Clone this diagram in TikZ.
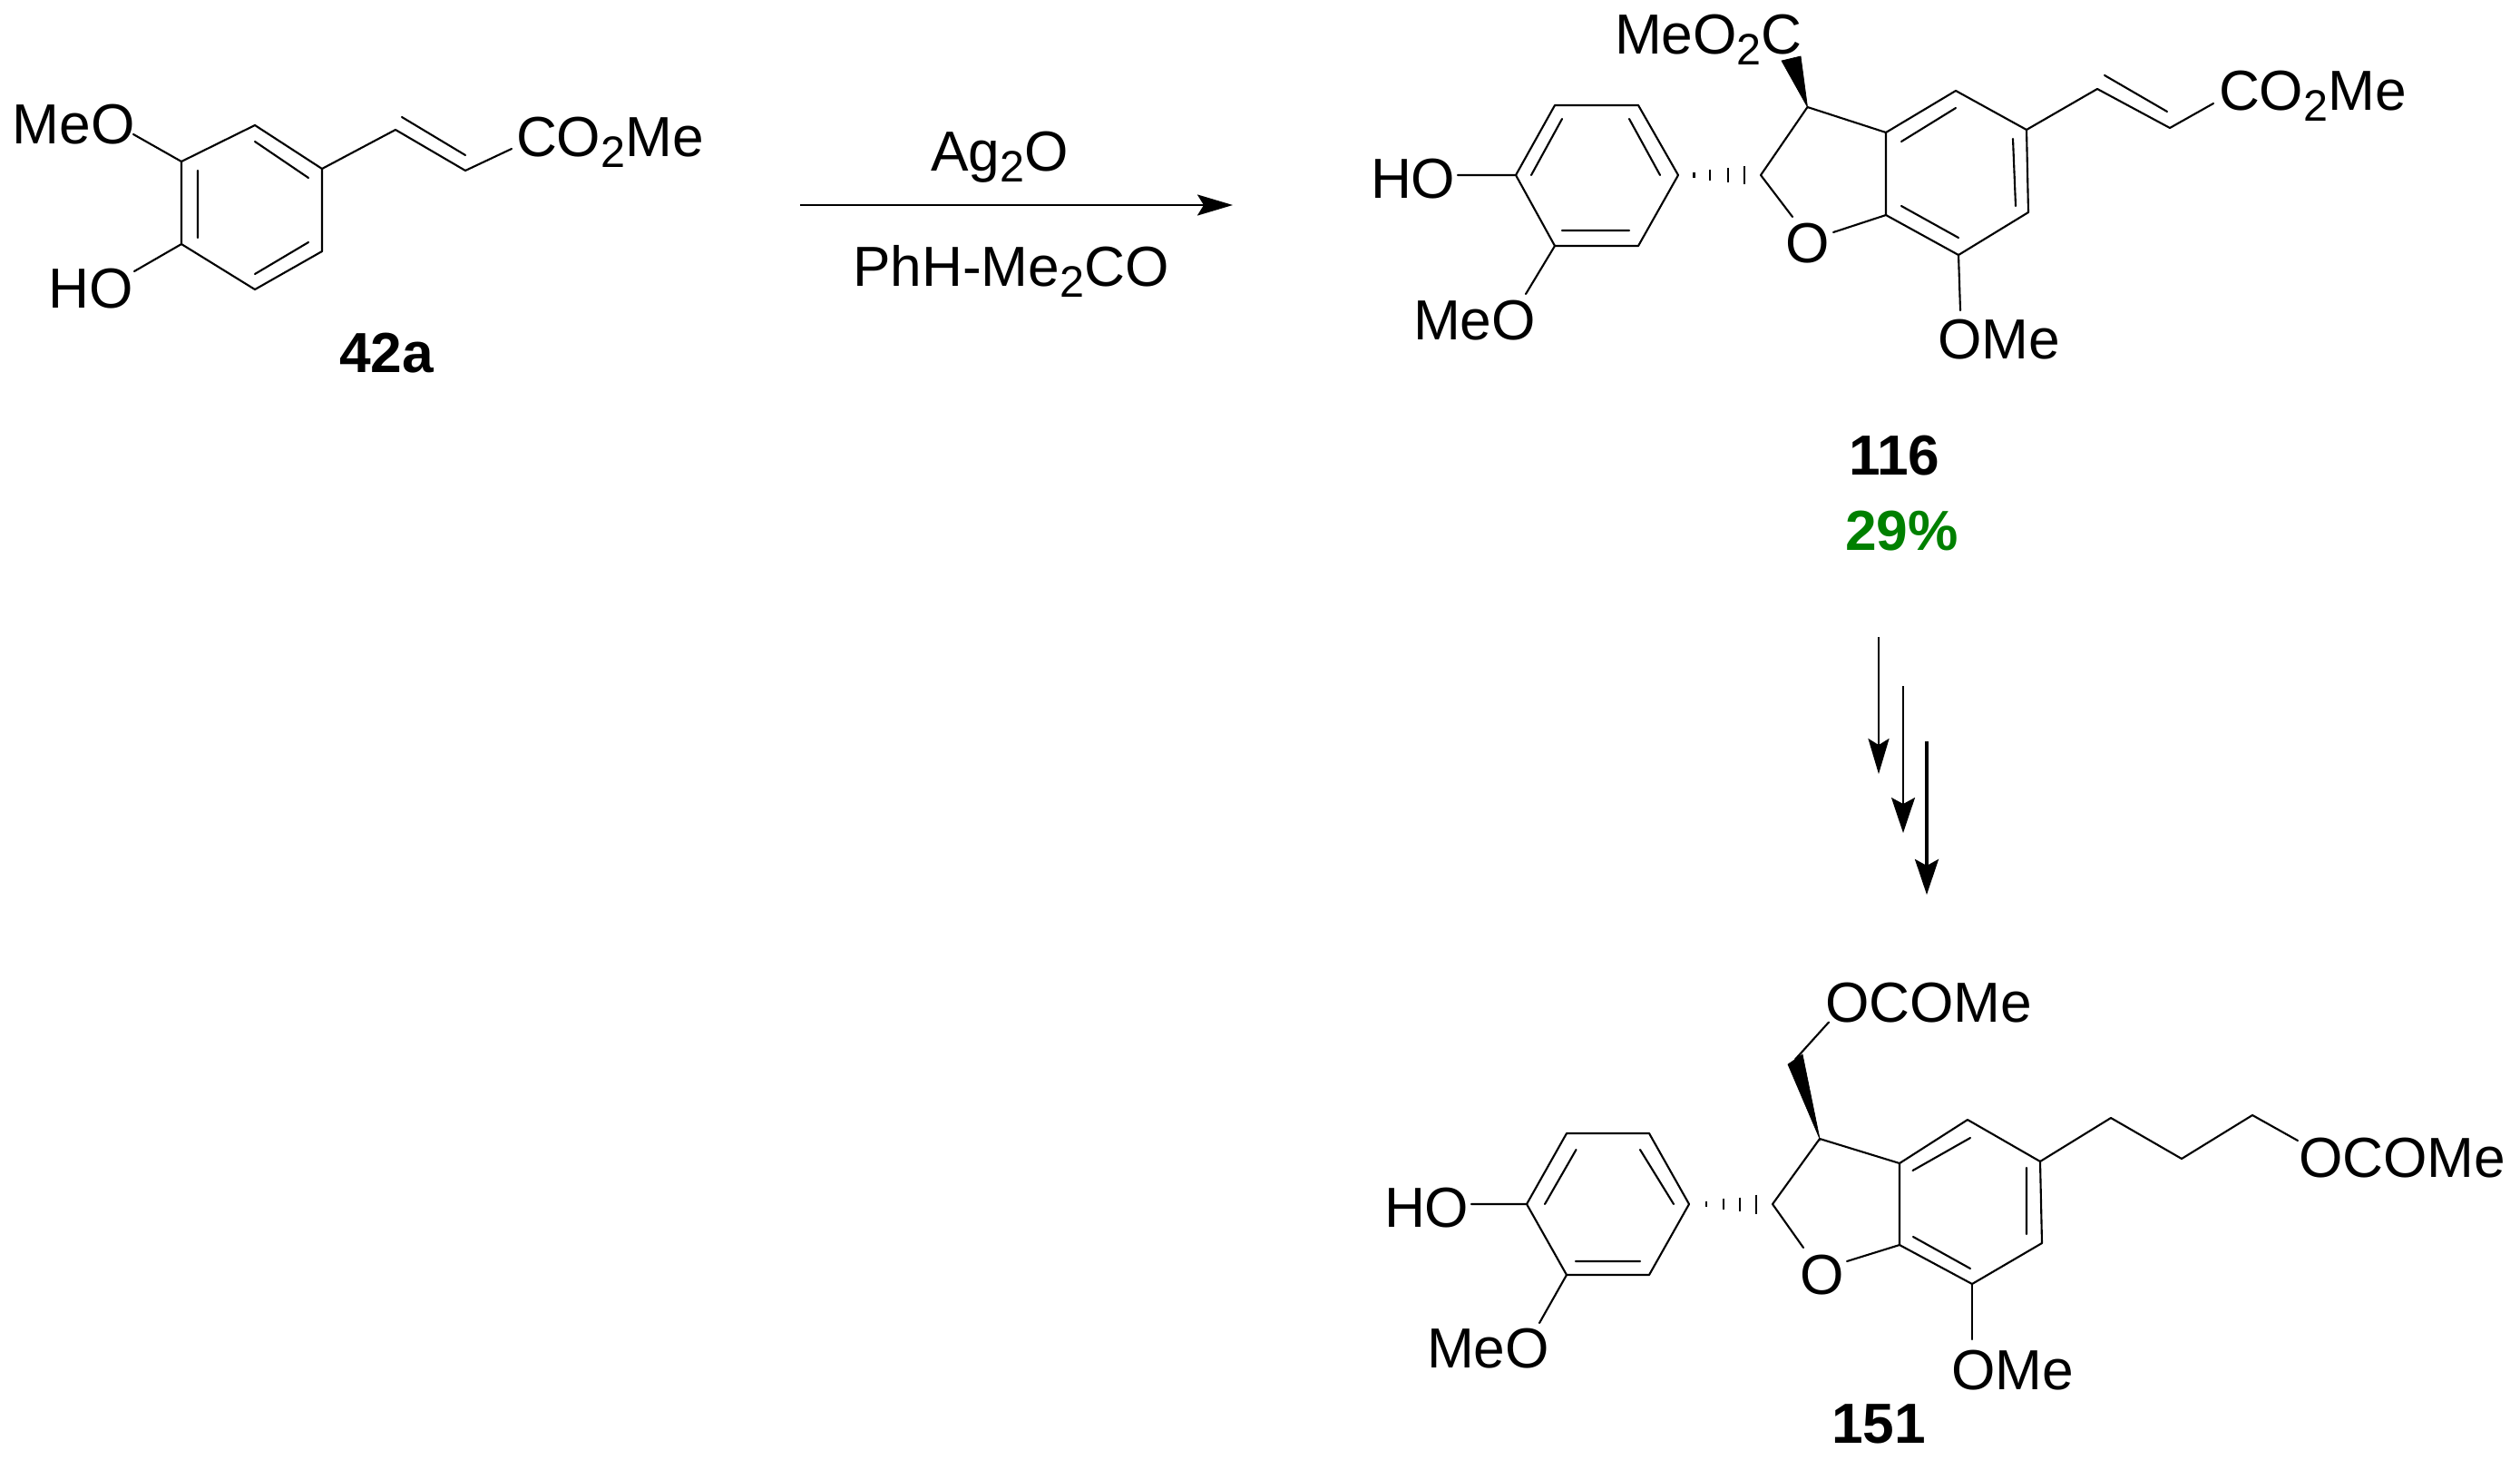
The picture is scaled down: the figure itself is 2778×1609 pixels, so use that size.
\documentclass[tikz,border=0pt]{standalone}
\usepackage{fontspec}
\setmainfont{Liberation Sans}
\usetikzlibrary{arrows.meta}
\definecolor{yieldgreen}{RGB}{0,128,0}
\newcommand{\chemtwo}{\raisebox{-0.125cm}{\fontsize{13.8pt}{15pt}\selectfont 2}}
\tikzset{
  bond/.style={line width=0.6pt,line cap=round,line join=round},
  hashbar/.style={line width=0.6pt},
  wedgebond/.style={fill=black,draw=black,line width=0.2pt},
  lbl/.style={anchor=base west,inner sep=0pt,outer sep=0pt,font=\fontsize{17.7pt}{20pt}\selectfont},
  boldlbl/.style={lbl,font=\fontsize{17.7pt}{20pt}\selectfont\bfseries},
  rxn/.style={line width=0.7pt,-{Stealth[length=0.39cm,width=0.23cm,inset=0.07cm]}},
  rxnb/.style={line width=0.8pt,-{Stealth[length=0.39cm,width=0.26cm,inset=0.07cm]}}
}
\begin{document}
\begin{tikzpicture}[x=0.01cm,y=-0.01cm]
\useasboundingbox (0,0) rectangle (2778,1609);
% ---- 42a ----
\node[lbl] (mA) at (14,158) {MeO};
\node[lbl] (hA) at (54,339) {HO};
\node[lbl] (cA) at (569,172) {CO\chemtwo Me};
\node[boldlbl] (nA) at (374,410) {42a};
\coordinate (a1) at (200,178); \coordinate (a2) at (281,138); \coordinate (a3) at (355,186);
\coordinate (a4) at (355,277); \coordinate (a5) at (281,319); \coordinate (a6) at (200,269);
\coordinate (a7) at (436,143); \coordinate (a8) at (513,188);
\coordinate (aM) at (147,148); \coordinate (aH) at (148,299); \coordinate (aC) at (564,164);
\draw[bond] (a1)--(a2)--(a3)--(a4)--(a5)--(a6)--cycle;
\draw[bond] (218,188)--(218,262) (281,156)--(340,196) (340,267)--(281,302);
\draw[bond] (a3)--(a7)--(a8)--(aC) (443,129)--(513,171);
\draw[bond] (aM)--(a1) (aH)--(a6);
% ---- reaction arrow ----
\node[lbl] (ag) at (1026,188) {Ag\chemtwo O};
\node[lbl] (ph) at (940,315) {PhH-Me\chemtwo CO};
\coordinate (r1) at (882,226); \coordinate (r2) at (1359,226);
\draw[rxn] (r1)--(r2);
% ---- 116 ----
\node[lbl] (tC) at (1780,59) {MeO\chemtwo C};
\node[lbl] (tH) at (1511,218) {HO};
\node[lbl] (tM) at (1558,374) {MeO};
\node[lbl] (tO) at (1968,289) {O};
\node[lbl] (tE) at (2446,121) {CO\chemtwo Me};
\node[lbl] (tOM) at (2136,395) {OMe};
\node[boldlbl] (nT) at (2038,523) {116};
\node[boldlbl,text=yieldgreen] (nY) at (2034,606) {29\%};
\coordinate (p1) at (1671,193); \coordinate (p2) at (1714,116); \coordinate (p3) at (1806,116);
\coordinate (p4) at (1850,193); \coordinate (p5) at (1806,271); \coordinate (p6) at (1714,271);
\coordinate (c2) at (1941,193); \coordinate (c3) at (1992.5,118); \coordinate (c3a) at (2079,146);
\coordinate (c7a) at (2079,237); \coordinate (c4) at (2156,100); \coordinate (c5) at (2234,143);
\coordinate (c6) at (2236,234); \coordinate (c7) at (2159,281); \coordinate (v1) at (2312,98);
\coordinate (v2) at (2392,141);
\coordinate (eH) at (1607,193); \coordinate (eM) at (1682,324); \coordinate (eO1) at (1976,239);
\coordinate (eO2) at (2021,256); \coordinate (eE) at (2440,114); \coordinate (eOM) at (2161,342);
\draw[bond] (p1)--(p2)--(p3)--(p4)--(p5)--(p6)--cycle;
\draw[bond] (1688,193)--(1722,131) (1796,131)--(1830,193) (1796,254)--(1722,254);
\draw[bond] (eH)--(p1) (p6)--(eM);
\draw[hashbar] (1867.5,190)--(1867.5,196) (1885,187)--(1885,199) (1905,185)--(1905,201) (1923,183)--(1923,203);
\draw[bond] (eO1)--(c2)--(c3)--(c3a)--(c7a)--(eO2);
\draw[wedgebond] (c3)--(1964,67)--(1985,62)--cycle;
\draw[bond] (c3a)--(c4)--(c5)--(c6)--(c7)--(c7a);
\draw[bond] (2096,156)--(2156,119) (2219,153)--(2222,227) (2159,262)--(2096,227);
\draw[bond] (c5)--(v1)--(v2)--(eE) (2320,83)--(2389,123);
\draw[bond] (c7)--(eOM);
% ---- three arrows ----
\coordinate (s1) at (2071,702); \coordinate (s2) at (2071,853);
\coordinate (s3) at (2098,756); \coordinate (s4) at (2098,918);
\coordinate (s5) at (2124,817); \coordinate (s6) at (2124,986);
\draw[rxn,line width=0.8pt] (s1)--(s2);
\draw[rxnb,line width=0.55pt] (s3)--(s4);
\draw[rxnb,line width=0.95pt] (s5)--(s6);
% ---- 151 ----
\node[lbl] (bC) at (2012,1126) {OCOMe};
\node[lbl] (bH) at (1526,1352) {HO};
\node[lbl] (bM) at (1573,1507.5) {MeO};
\node[lbl] (bO) at (1984,1426) {O};
\node[lbl] (bE) at (2534,1297) {OCOMe};
\node[lbl] (bOM) at (2151,1531) {OMe};
\node[boldlbl] (nB) at (2019,1590) {151};
\coordinate (q1) at (1683,1327); \coordinate (q2) at (1727,1249); \coordinate (q3) at (1818,1249);
\coordinate (q4) at (1862,1327); \coordinate (q5) at (1818,1405); \coordinate (q6) at (1727,1405);
\coordinate (d2) at (1954,1327); \coordinate (d3) at (2006,1255); \coordinate (d3a) at (2094,1282);
\coordinate (d7a) at (2094,1372); \coordinate (d4) at (2169,1234); \coordinate (d5) at (2249,1280);
\coordinate (d6) at (2251,1370); \coordinate (d7) at (2174,1415);
\coordinate (h1) at (2327,1232); \coordinate (h2) at (2405,1277); \coordinate (h3) at (2483,1229);
\coordinate (m1) at (1979,1167.5);
\coordinate (fH) at (1622,1327); \coordinate (fM) at (1697,1458); \coordinate (fO1) at (1988,1375);
\coordinate (fO2) at (2036,1390); \coordinate (fE) at (2533,1257); \coordinate (fOM) at (2174,1476);
\coordinate (fC) at (2016,1126.5);
\draw[bond] (q1)--(q2)--(q3)--(q4)--(q5)--(q6)--cycle;
\draw[bond] (1703,1327)--(1737.5,1267) (1808,1267)--(1845,1327) (1808,1390)--(1737,1390);
\draw[bond] (fH)--(q1) (q6)--(fM);
\draw[hashbar] (1881,1324)--(1881,1330) (1900,1321)--(1900,1333) (1918,1319.5)--(1918,1334.5) (1936,1316.5)--(1936,1337.5);
\draw[bond] (fO1)--(d2)--(d3)--(d3a)--(d7a)--(fO2);
\draw[wedgebond] (d3)--(1971,1173)--(1987,1162)--cycle;
\draw[bond] (m1)--(fC);
\draw[bond] (d3a)--(d4)--(d5)--(d6)--(d7)--(d7a);
\draw[bond] (2108.5,1290)--(2172,1254) (2234,1287)--(2234,1360) (2172,1398)--(2109,1363);
\draw[bond] (d5)--(h1)--(h2)--(h3)--(fE);
\draw[bond] (d7)--(fOM);
\end{tikzpicture}
\end{document}
